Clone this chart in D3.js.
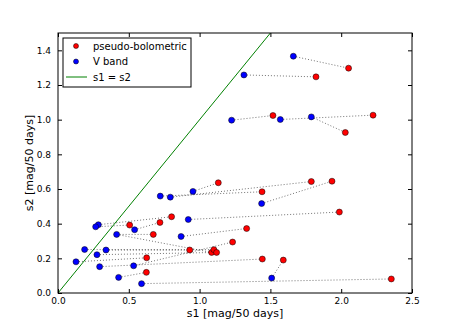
<!DOCTYPE html>
<html>
<head>
<meta charset="utf-8">
<script src="https://cdn.jsdelivr.net/npm/d3@7"></script>
<style>
  body { margin: 0; background: #fff; }
  text { font-family: "DejaVu Sans", sans-serif; }
</style>
</head>
<body>
<div id="chart"></div>
<script>
const width = 458;
const height = 327;

// V band points (s1, s2)
const vS1 = [1.662, 1.313, 1.226, 1.570, 1.789, 1.438, 0.722, 0.793, 0.953, 0.285, 0.266, 0.541,
             0.414, 0.188, 0.339, 0.275, 0.127, 0.294, 0.534, 0.428, 0.590, 0.920, 0.869, 1.509];
const vS2 = [1.366, 1.258, 0.997, 1.001, 1.016, 0.516, 0.559, 0.553, 0.586, 0.394, 0.382, 0.365,
             0.338, 0.251, 0.248, 0.221, 0.180, 0.152, 0.157, 0.090, 0.054, 0.424, 0.326, 0.086];

// pseudo-bolometric points (s1, s2)
const bS1 = [2.052, 1.822, 1.518, 2.225, 2.029, 1.789, 1.935, 1.441, 1.987, 1.132, 0.802, 0.720, 0.506,
             0.673, 0.626, 0.624, 1.332, 1.233, 0.930, 1.085, 1.101, 1.120, 1.443, 1.591, 2.354];
const bS2 = [1.297, 1.247, 1.024, 1.026, 0.926, 0.643, 0.645, 0.584, 0.467, 0.636, 0.440, 0.407, 0.392,
             0.338, 0.203, 0.119, 0.372, 0.294, 0.248, 0.234, 0.250, 0.234, 0.196, 0.190, 0.081];

// which V band point goes with which pseudo-bolometric point
const links = [[0, 0], [1, 1], [2, 2], [3, 3], [4, 4], [5, 6], [6, 7], [7, 5], [8, 9], [9, 10],
               [10, 12], [11, 11], [12, 13], [12, 19], [13, 18], [14, 20], [15, 21], [16, 14],
               [17, 22], [18, 17], [19, 15], [20, 24], [21, 8], [22, 16], [23, 23]];

const xTicks = [0.0, 0.5, 1.0, 1.5, 2.0, 2.5];
const yTicks = [0.0, 0.2, 0.4, 0.6, 0.8, 1.0, 1.2, 1.4];

const margin = { left: 58, right: 46, top: 33, bottom: 34 };
const iw = width - margin.left - margin.right;
const ih = height - margin.top - margin.bottom;

const svg = d3.select("#chart")
    .append("svg")
    .attr("width", width)
    .attr("height", height);

const x = d3.scaleLinear().domain([0, 2.5]).range([0, iw]);
const y = d3.scaleLinear().domain([0, 1.5]).range([ih, 0]);

const g = svg.append("g")
    .attr("transform", `translate(${margin.left},${margin.top})`);

g.append("clipPath").attr("id", "clip")
    .append("rect").attr("width", iw).attr("height", ih);

// s1 = s2 line
g.append("line")
    .attr("clip-path", "url(#clip)")
    .attr("x1", x(0)).attr("y1", y(0))
    .attr("x2", x(1.5)).attr("y2", y(1.5))
    .attr("stroke", "#008000")
    .attr("stroke-width", 1);

// dotted links
g.selectAll(".link")
    .data(links)
    .enter()
    .append("line")
    .attr("x1", d => x(vS1[d[0]]))
    .attr("y1", d => y(vS2[d[0]]))
    .attr("x2", d => x(bS1[d[1]]))
    .attr("y2", d => y(bS2[d[1]]))
    .attr("stroke", "#000")
    .attr("stroke-opacity", 0.55)
    .attr("stroke-width", 1)
    .attr("stroke-dasharray", "1,2");

// points
g.selectAll(".bolo")
    .data(bS1)
    .enter()
    .append("circle")
    .attr("cx", d => x(d))
    .attr("cy", (d, i) => y(bS2[i]))
    .attr("r", 3)
    .attr("fill", "#ff0000")
    .attr("stroke", "#000")
    .attr("stroke-width", 0.5);

g.selectAll(".vband")
    .data(vS1)
    .enter()
    .append("circle")
    .attr("cx", d => x(d))
    .attr("cy", (d, i) => y(vS2[i]))
    .attr("r", 3)
    .attr("fill", "#0000ff")
    .attr("stroke", "#000")
    .attr("stroke-width", 0.5);

// axes, ticks inside on all four sides
const fs = 9;
g.append("g")
    .attr("transform", `translate(0,${ih})`)
    .call(d3.axisBottom(x).tickValues(xTicks).tickFormat(d3.format(".1f")).tickSizeInner(-4).tickSizeOuter(0).tickPadding(5));
g.append("g")
    .call(d3.axisTop(x).tickValues(xTicks).tickFormat("").tickSizeInner(-4).tickSizeOuter(0));
g.append("g")
    .call(d3.axisLeft(y).tickValues(yTicks).tickFormat(d3.format(".1f")).tickSizeInner(-4).tickSizeOuter(0).tickPadding(7));
g.append("g")
    .attr("transform", `translate(${iw},0)`)
    .call(d3.axisRight(y).tickValues(yTicks).tickFormat("").tickSizeInner(-4).tickSizeOuter(0));

g.selectAll(".domain").remove();
g.selectAll(".tick text")
    .style("font-family", "DejaVu Sans")
    .style("font-size", fs + "px")
    .attr("fill", "#000");

g.append("rect")
    .attr("width", iw).attr("height", ih)
    .attr("fill", "none")
    .attr("stroke", "#000")
    .attr("stroke-width", 1);

// axis labels
svg.append("text")
    .attr("x", margin.left + iw / 2)
    .attr("y", height - 10)
    .attr("text-anchor", "middle")
    .style("font-size", "11px")
    .text("s1 [mag/50 days]");

svg.append("text")
    .attr("transform", `translate(${margin.left - 25},${margin.top + ih / 2}) rotate(-90)`)
    .attr("text-anchor", "middle")
    .style("font-size", "11px")
    .text("s2 [mag/50 days]");

// legend
const legend = g.append("g").attr("transform", "translate(5,5)");
legend.append("rect")
    .attr("width", 128).attr("height", 49)
    .attr("fill", "#fff")
    .attr("stroke", "#000")
    .attr("stroke-width", 1);

const legendItems = [
    { label: "pseudo-bolometric", type: "dot", color: "#ff0000" },
    { label: "V band", type: "dot", color: "#0000ff" },
    { label: "s1 = s2", type: "line", color: "#008000" }
];

legendItems.forEach((it, i) => {
    const yy = 8 + i * 15.5;
    if (it.type === "dot") {
        legend.append("circle")
            .attr("cx", 13).attr("cy", yy)
            .attr("r", 2.5)
            .attr("fill", it.color)
            .attr("stroke", "#000")
            .attr("stroke-width", 0.5);
    } else {
        legend.append("line")
            .attr("x1", 3).attr("x2", 24)
            .attr("y1", yy).attr("y2", yy)
            .attr("stroke", it.color)
            .attr("stroke-width", 1);
    }
    legend.append("text")
        .attr("x", 30)
        .attr("y", yy)
        .attr("dy", "0.35em")
        .style("font-size", "10px")
        .text(it.label);
});
</script>
</body>
</html>
